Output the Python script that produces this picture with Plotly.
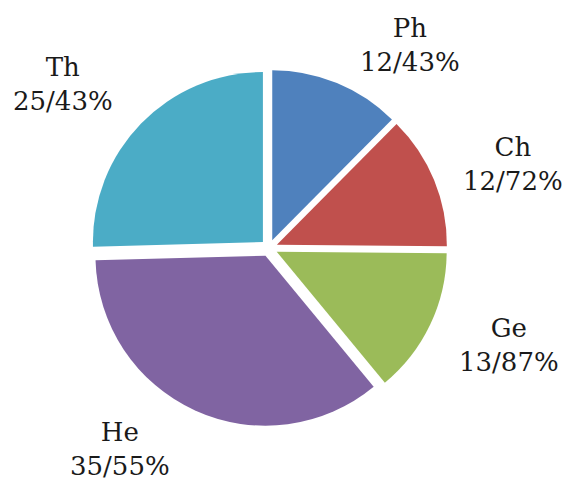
import plotly.graph_objects as go

# Data
labels = ["Ph", "Ch", "Ge", "He", "Th"]
values = [12.43, 12.72, 13.87, 35.55, 25.43]
colors = ["#4F81BD", "#C0504D", "#9BBB59", "#8064A2", "#4BACC6"]

# Layout: page offset (body margin) and label block centres in window pixels
OFF = 8
W, H = 571 - OFF, 482 - OFF
label_px = [(410, 45), (513, 164), (509, 345), (120, 449), (63, 84)]

cx, cy, r, pull = 269 - OFF, 248 - OFF, 170, 0.05
half = r * (1 + pull)

fig = go.Figure(go.Pie(
    labels=labels,
    values=values,
    marker=dict(colors=colors, line=dict(width=0)),
    sort=False,
    direction="clockwise",
    rotation=0,
    pull=[pull] * len(values),
    textinfo="none",
    hoverinfo="none",
    showlegend=False,
    domain=dict(x=[(cx - half) / W, (cx + half) / W],
                y=[1 - (cy + half) / H, 1 - (cy - half) / H]),
))

for lab, val, (px, py) in zip(labels, values, label_px):
    txt = f"{lab}<br>{val:.2f}".replace(".", "/") + "%"
    fig.add_annotation(
        x=(px - OFF) / W, y=1 - (py - OFF) / H, xref="paper", yref="paper",
        text=txt, showarrow=False, xanchor="center", yanchor="middle",
        font=dict(family="DejaVu Serif", size=26, color="#1a1a1a"),
    )

fig.update_layout(
    width=W, height=H,
    margin=dict(l=0, r=0, t=0, b=0),
    paper_bgcolor="white", plot_bgcolor="white",
)

fig.write_html("out.html")
